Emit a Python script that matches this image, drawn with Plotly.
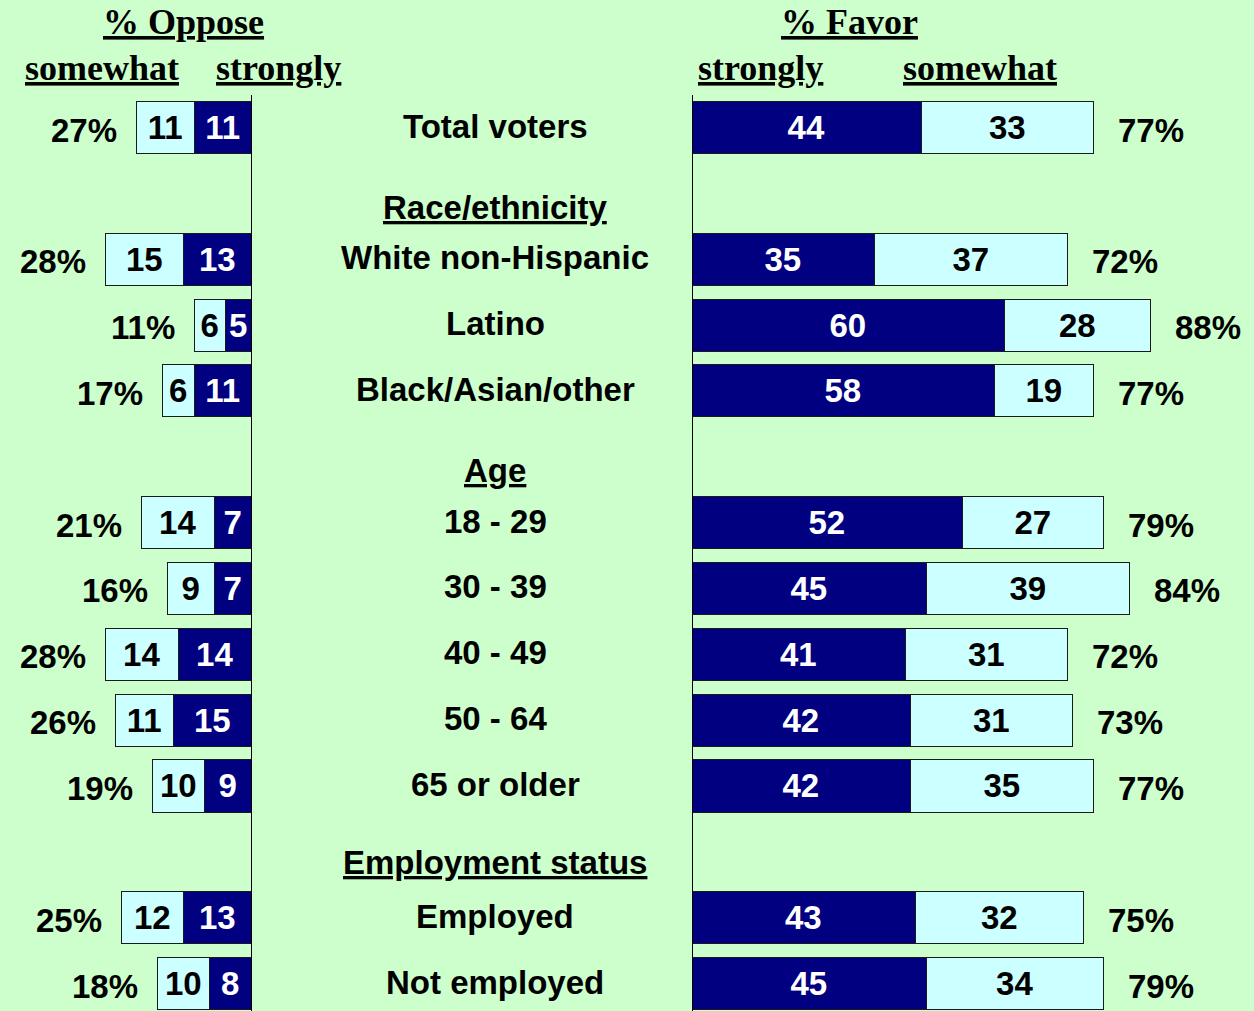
import plotly.graph_objects as go

# rows, top to bottom (row index = slot on the y axis)
labels = ["Total voters", "White non-Hispanic", "Latino", "Black/Asian/other",
          "18 - 29", "30 - 39", "40 - 49", "50 - 64", "65 or older",
          "Employed", "Not employed"]
rows = [0, 2, 3, 4, 6, 7, 8, 9, 10, 12, 13]

oppose_somewhat = [11, 15, 6, 6, 14, 9, 14, 11, 10, 12, 10]
oppose_strongly = [11, 13, 5, 11, 7, 7, 14, 15, 9, 13, 8]
oppose_total = [27, 28, 11, 17, 21, 16, 28, 26, 19, 25, 18]

favor_strongly = [44, 35, 60, 58, 52, 45, 41, 42, 42, 43, 45]
favor_somewhat = [33, 37, 28, 19, 27, 39, 31, 31, 35, 32, 34]
favor_total = [77, 72, 88, 77, 79, 84, 72, 73, 77, 75, 79]

group_titles = ["Race/ethnicity", "Age", "Employment status"]
group_rows = [1.2, 5.2, 11.15]

W, H = 1254, 1011
BG = "#CCFFCC"
NAVY = "#000080"
CYAN = "#CCFFFF"
SANS = "Arial, Liberation Sans, sans-serif"
SERIF = "Times New Roman, Liberation Serif, serif"
PX = 5.22          # pixels per percentage point
LEFT0, RIGHT0 = 252, 692
ROW0, STEP = 128, 65.85
UL = '<span style="text-decoration:underline;text-decoration-thickness:3px">%s</span>'

fig = go.Figure()

def bars(x, color, tcolor, axis):
    fig.add_trace(go.Bar(
        x=x, y=rows, orientation="h", xaxis=axis, yaxis="y",
        marker=dict(color=color, line=dict(color="#1a1a1a", width=1.5)),
        width=0.79, text=[str(v) for v in x], textposition="inside",
        insidetextanchor="middle",
        textfont=dict(family=SANS, size=33, color=tcolor, weight="bold"),
        hoverinfo="skip", showlegend=False, cliponaxis=False))

bars(oppose_strongly, NAVY, "white", "x")
bars(oppose_somewhat, CYAN, "black", "x")
bars(favor_strongly, NAVY, "white", "x2")
bars(favor_somewhat, CYAN, "black", "x2")

ann = []
for i, r in enumerate(rows):
    ann.append(dict(x=oppose_strongly[i] + oppose_somewhat[i], y=r, xref="x", yref="y",
                    text="<b>%d%%</b>" % oppose_total[i], xanchor="right",
                    xshift=-18, yshift=-2, showarrow=False,
                    font=dict(family=SANS, size=33, color="black")))
    ann.append(dict(x=favor_strongly[i] + favor_somewhat[i], y=r, xref="x2", yref="y",
                    text="<b>%d%%</b>" % favor_total[i], xanchor="left",
                    xshift=22, yshift=-2, showarrow=False,
                    font=dict(family=SANS, size=33, color="black")))
    ann.append(dict(x=495 / W, y=r, xref="paper", yref="y", text="<b>%s</b>" % labels[i],
                    xanchor="center", yshift=2, showarrow=False,
                    font=dict(family=SANS, size=33, color="black")))
for t, r in zip(group_titles, group_rows):
    ann.append(dict(x=495 / W, y=r, xref="paper", yref="y", text="<b>%s</b>" % (UL % t),
                    xanchor="center", showarrow=False,
                    font=dict(family=SANS, size=33, color="black")))

heads = [("% Oppose", 183, 22), ("somewhat", 102, 68), ("strongly", 278, 68),
         ("% Favor", 850, 22), ("strongly", 760, 68), ("somewhat", 980, 68)]
for t, hx, hy in heads:
    ann.append(dict(x=hx / W, y=1 - hy / H, xref="paper", yref="paper",
                    text="<b>%s</b>" % (UL % t), showarrow=False,
                    xanchor="center", yanchor="middle",
                    font=dict(family=SERIF, size=36, color="black")))

shapes = []
for ax in ["x", "x2"]:
    shapes.append(dict(type="line", xref=ax, x0=0, x1=0, yref="paper",
                       y0=0, y1=1 - 95 / H, line=dict(color="black", width=2)))

fig.update_layout(
    width=W, height=H, margin=dict(l=0, r=0, t=0, b=0),
    paper_bgcolor=BG, plot_bgcolor=BG, barmode="stack", bargap=0,
    xaxis=dict(domain=[0, LEFT0 / W], range=[LEFT0 / PX, 0], visible=False,
               fixedrange=True),
    xaxis2=dict(domain=[RIGHT0 / W, 1], range=[0, (W - RIGHT0) / PX], visible=False,
                anchor="y", fixedrange=True),
    yaxis=dict(range=[(H - ROW0) / STEP, -ROW0 / STEP], visible=False, fixedrange=True),
    annotations=ann, shapes=shapes,
)

fig.write_html("out.html", config={"displayModeBar": False},
               post_script="document.body.style.margin='0';"
                           "document.body.style.background='%s';" % BG)
